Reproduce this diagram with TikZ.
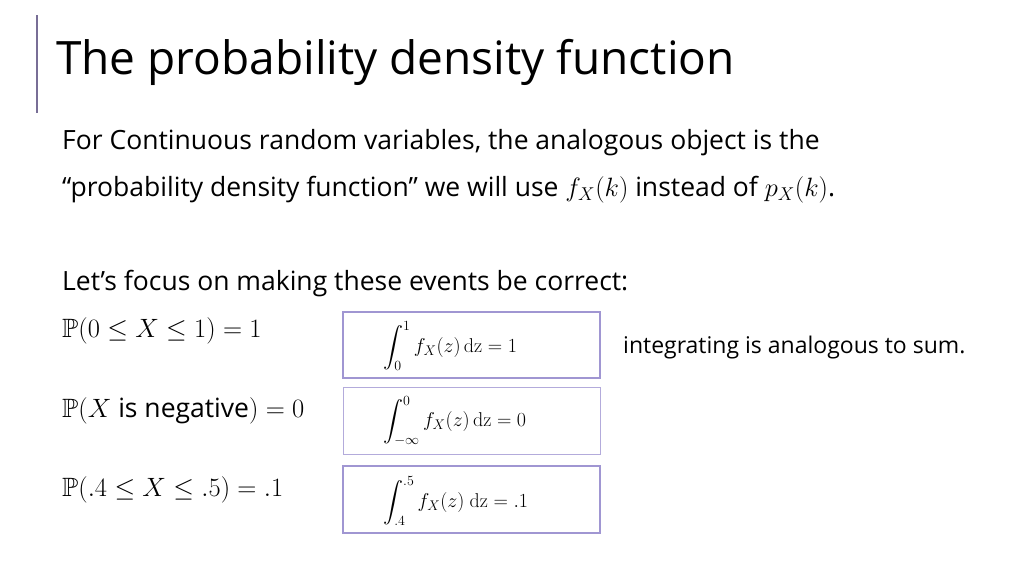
\RequirePackage{fix-cm}
\documentclass[tikz,border=0pt]{standalone}
\usepackage{amsmath,amssymb}
\usepackage[no-math]{fontspec}
\setmainfont{Open Sans}
\tikzset{txt/.style={anchor=west,inner sep=0pt,font=\fontsize{26.5}{30}\selectfont},
 mbox/.style={draw=boxc,line width=2pt},
 ibox/.style={anchor=west,inner sep=0pt,font=\fontsize{20}{24}\selectfont}}
\definecolor{boxc}{RGB}{160,150,210}
\definecolor{barc}{RGB}{120,110,150}
\begin{document}
\begin{tikzpicture}[x=1pt,y=-1pt]
\useasboundingbox (0,0) rectangle (1024,576);
\draw[barc,line width=1.5pt] (37,15) -- (37,113);
\node[anchor=west,inner sep=0pt,font=\fontsize{46}{52}\selectfont] (title) at (56,62) {The probability density function};
\node[txt] (l1) at (62,143) {For Continuous random variables, the analogous object is the};
\node[txt] (l2) at (62,190) {``probability density function'' we will use $f_X(k)$ instead of $p_X(k)$.};
\node[txt] (l3) at (62,284) {Let's focus on making these events be correct:};
\node[txt] (p1) at (62,331) {$\mathbb{P}(0\le X\le 1)=1$};
\node[txt] (p2) at (62,411) {$\mathbb{P}(X\text{ is negative})=0$};
\node[txt] (p3) at (62,490) {$\mathbb{P}(.4\le X\le .5)=.1$};
\draw[mbox] (343,312) rectangle (600,378);
\draw[draw=boxc!80,line width=1pt] (343,387) rectangle (600,454);
\draw[mbox] (343,466) rectangle (600,533);
\node[ibox] (i1) at (383,346) {$\displaystyle\int_0^1 f_X(z)\,\mathrm{dz}=1$};
\node[ibox] (i2) at (383,421) {$\displaystyle\int_{-\infty}^0 f_X(z)\,\mathrm{dz}=0$};
\node[ibox] (i3) at (383,501) {$\displaystyle\int_{.4}^{.5} f_X(z)\ \mathrm{dz}=.1$};
\node[anchor=west,inner sep=0pt,font=\fontsize{23}{26}\selectfont] (note) at (623,348) {integrating is analogous to sum.};
\end{tikzpicture}
\end{document}
